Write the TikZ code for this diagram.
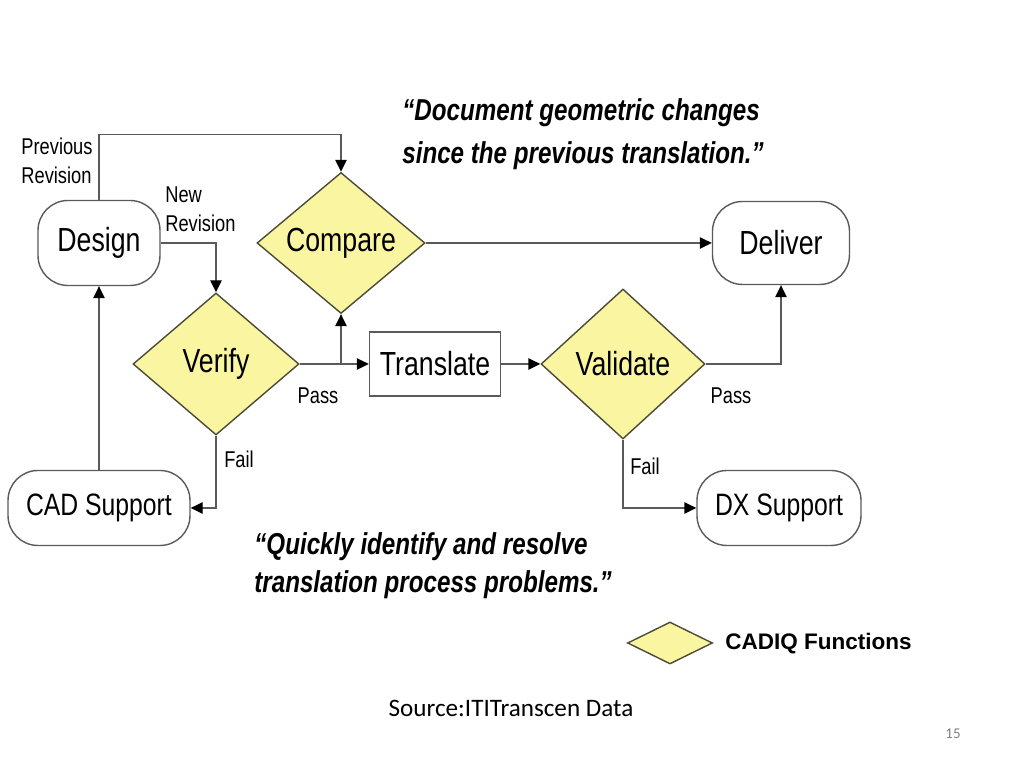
\documentclass[tikz,border=0pt]{standalone}
\usepackage{fontspec}
\setmainfont{Liberation Sans}
\newfontfamily\narrowsf[FakeStretch=0.8]{Liberation Sans}
\newfontfamily\slidesf{Carlito}
\usetikzlibrary{arrows.meta,positioning,shapes.geometric}
\definecolor{cadiqyellow}{RGB}{250,245,160}
\definecolor{flowgray}{RGB}{90,90,90}
\definecolor{edgeolive}{RGB}{75,75,55}

\begin{document}
\begin{tikzpicture}[
    term/.style={draw=flowgray, line width=0.8pt, rounded corners=0.6cm, inner sep=0pt, font={\narrowsf\fontsize{19}{22}\selectfont}},
    support/.style={term, font={\narrowsf\fontsize{17.6}{21}\selectfont}},
    process/.style={draw=flowgray, line width=0.8pt, rectangle, inner sep=0pt, font={\narrowsf\fontsize{19}{22}\selectfont}},
    decision/.style={draw=edgeolive, line width=0.8pt, diamond, aspect=1.2, fill=cadiqyellow, inner sep=0pt, font={\narrowsf\fontsize{19}{22}\selectfont}},
    flow/.style={draw=flowgray, line width=0.8pt, -{Triangle[length=2.4mm,width=2.3mm,color=black]}},
    lbl/.style={font={\narrowsf\fontsize{13}{16.5}\selectfont}, align=left, inner sep=0pt},
    quote/.style={font={\narrowsf\fontsize{17.2}{21.5}\bfseries\itshape\selectfont}, align=left, anchor=west, inner sep=0pt}
]
\useasboundingbox (0,0) rectangle (20.48,15.36);

% Process nodes
\node[term, minimum width=2.44cm, minimum height=1.7cm] (design) at (1.98,10.50) {Design};
\node[decision, minimum width=3.36cm, minimum height=2.82cm] (compare) at (6.82,10.50) {Compare};
\node[term, minimum width=2.74cm, minimum height=1.66cm] (deliver) at (15.62,10.50) {Deliver};
\node[decision, minimum width=3.32cm, minimum height=2.84cm] (verify) at (4.32,8.08) {Verify};
\node[process, minimum width=2.62cm, minimum height=1.28cm] (translate) at (8.70,8.08) {Translate};
\node[decision, minimum width=3.28cm, minimum height=3.0cm] (validate) at (12.46,8.08) {Validate};
\node[support, minimum width=3.64cm, minimum height=1.5cm] (cadsupport) at (1.98,5.20) {CAD Support};
\node[support, minimum width=3.28cm, minimum height=1.5cm] (dxsupport) at (15.58,5.20) {DX Support};

% Connectors
\draw[flow] (design.north) -- ++(0,1.31) -| (compare.north);
\draw[flow] (design.east) -| (verify.north);
\draw[flow] (verify.east) -- (translate.west);
\draw[flow] (verify.east -| compare.south) -- (compare.south);
\draw[flow] (translate) -- (validate);
\draw[flow] (compare) -- (deliver);
\draw[flow] (validate.east) -| (deliver.south);
\draw[flow] (validate.south) |- (dxsupport.west);
\draw[flow] (verify.south) |- (cadsupport.east);
\draw[flow] (cadsupport) -- (design);

% Connector labels
\node[lbl] (prevlbl) at (1.14,12.14) {Previous\\Revision};
\node[lbl, anchor=west] (newlbl) at (3.30,11.18) {New\\Revision};
\node[lbl] (passverify) at (6.36,7.44) {Pass};
\node[lbl] (passvalidate) at (14.62,7.44) {Pass};
\node[lbl] (failverify) at (4.78,6.18) {Fail};
\node[lbl] (failvalidate) at (12.90,6.04) {Fail};

% Quotes
\node[quote, font={\narrowsf\fontsize{17.2}{24.8}\bfseries\itshape\selectfont}] (comparequote) at (8.04,12.68) {“Document geometric changes\\since the previous translation.”};
\node[quote] (problemquote) at (5.08,4.04) {“Quickly identify and resolve\\translation process problems.”};

% Legend
\node[draw=edgeolive, line width=0.8pt, diamond, fill=cadiqyellow, minimum width=1.7cm, minimum height=0.84cm, inner sep=0pt] (legendmark) at (13.40,2.50) {};
\node[font=\fontsize{12.8}{15}\bfseries\selectfont, anchor=west, inner sep=0pt] (legendtext) at (14.50,2.48) {CADIQ Functions};

% Slide footer
\node[font={\slidesf\fontsize{14.3}{17}\selectfont}, inner sep=0pt] (source) at (10.22,1.20) {Source:ITITranscen Data};
\node[font={\slidesf\fontsize{8.5}{10}\selectfont}, text=gray, inner sep=0pt] (pagenum) at (19.06,0.68) {15};
\end{tikzpicture}
\end{document}
